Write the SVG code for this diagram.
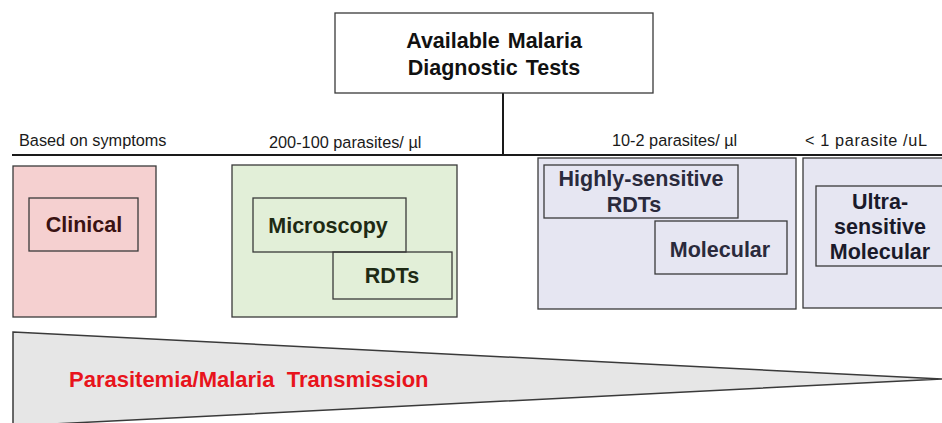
<svg xmlns="http://www.w3.org/2000/svg" width="942" height="423" viewBox="0 0 942 423">
  <style>
    .box { stroke: #3a3a3a; stroke-width: 1.3; }
    .inner { fill: none; stroke: #3a3a3a; stroke-width: 1.3; }
    .label { font-family: "Liberation Sans", Arial, sans-serif; font-size: 16.3px; fill: #1a1a1a; }
    .bold { font-family: "Liberation Sans", Arial, sans-serif; font-size: 21.5px; font-weight: bold; text-anchor: middle; }
    .conn { stroke: #1a1a1a; stroke-width: 2; fill: none; }
  </style>
  <rect width="942" height="423" fill="#ffffff"/>

  <!-- connectors: stem and horizontal axis -->
  <g id="connectors">
    <line class="conn" x1="503" y1="93" x2="503" y2="155"/>
    <line class="conn" x1="12" y1="155" x2="942" y2="155"/>
  </g>

  <!-- title node -->
  <g id="title">
    <rect x="335" y="13" width="318" height="80" fill="#ffffff" class="box"/>
    <text class="bold" x="494" y="48" fill="#111111" word-spacing="2">Available Malaria</text>
    <text class="bold" x="494" y="75" fill="#111111" word-spacing="2">Diagnostic Tests</text>
  </g>

  <!-- range labels -->
  <g id="labels">
    <text class="label" x="19" y="146">Based on symptoms</text>
    <text class="label" x="269" y="148">200-100 parasites/ µl</text>
    <text class="label" x="612" y="146">10-2 parasites/ µl</text>
    <text class="label" x="805" y="146" textLength="122">&lt; 1 parasite /uL</text>
  </g>

  <!-- clinical group -->
  <g id="clinical">
    <rect x="13" y="166" width="143" height="151" fill="#f5d0d0" class="box"/>
    <rect x="29" y="198" width="109" height="53" class="inner"/>
    <text class="bold" x="84" y="232" fill="#3a1212">Clinical</text>
  </g>

  <!-- microscopy / RDT group -->
  <g id="microscopy-rdts">
    <rect x="232" y="165" width="225" height="152" fill="#e2efd8" class="box"/>
    <rect x="253" y="198" width="153" height="54" class="inner"/>
    <text class="bold" x="328" y="233" fill="#1e2a14">Microscopy</text>
    <rect x="333" y="252" width="119" height="47" class="inner"/>
    <text class="bold" x="392" y="283" fill="#1e2a14">RDTs</text>
  </g>

  <!-- highly-sensitive RDTs / molecular group -->
  <g id="highly-sensitive">
    <rect x="538" y="158" width="258" height="151" fill="#e6e6f2" class="box"/>
    <rect x="544" y="165" width="194" height="53" class="inner"/>
    <text class="bold" x="641" y="186" fill="#2a2a3c">Highly-sensitive</text>
    <text class="bold" x="634" y="212" fill="#2a2a3c">RDTs</text>
    <rect x="655" y="221" width="132" height="53" class="inner"/>
    <text class="bold" x="720" y="257" fill="#2a2a3c">Molecular</text>
  </g>

  <!-- ultra-sensitive molecular group -->
  <g id="ultra-sensitive">
    <rect x="803" y="158" width="145" height="150" fill="#e6e6f2" class="box"/>
    <rect x="816" y="186" width="130" height="80" class="inner"/>
    <text class="bold" x="880" y="209" fill="#1a1a2a">Ultra-</text>
    <text class="bold" x="880" y="234" fill="#1a1a2a">sensitive</text>
    <text class="bold" x="880" y="259" fill="#1a1a2a">Molecular</text>
  </g>

  <!-- decreasing wedge -->
  <g id="transmission">
    <polygon points="13,332 942,379 13,426" fill="#e6e6e6" stroke="#3a3a3a" stroke-width="1.5"/>
    <text x="69" y="387" font-family="Liberation Sans, Arial, sans-serif" font-size="22" font-weight="bold" fill="#e8141c" xml:space="preserve">Parasitemia/Malaria  Transmission</text>
  </g>
</svg>
